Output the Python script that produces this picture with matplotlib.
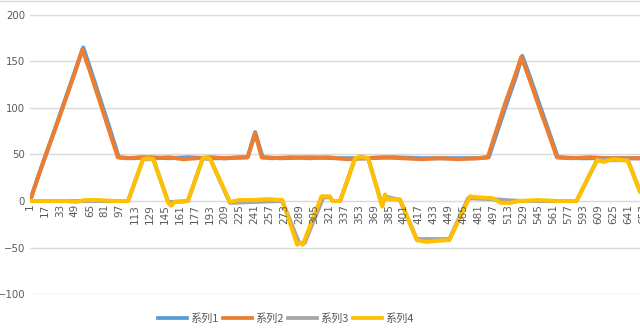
import numpy as np
import matplotlib
matplotlib.use("Agg")
import matplotlib.pyplot as plt
from matplotlib.lines import Line2D

plt.rcParams['font.family'] = ['Noto Sans CJK SC', 'DejaVu Sans']

# vertices (category index, value)
s1_x = [1, 10, 20, 30, 40, 50, 58, 66, 76, 86, 96, 110, 130, 150, 170, 190, 210, 234, 242, 250,
        270, 300, 330, 360, 390, 420, 450, 480, 492, 502, 512, 521, 528, 536, 546, 556, 566, 590, 620, 654]
s1_y = [0, 27, 55, 84, 113, 142, 165, 141, 110, 79, 47, 46, 47, 46, 47, 46, 46, 47, 74, 47,
        46, 47, 46, 46, 47, 46, 46, 46, 47, 77, 107, 133, 156, 134, 105, 76, 47, 46, 46, 46]

s2_x = [1, 10, 20, 30, 40, 50, 57, 65, 75, 85, 95, 105, 120, 135, 150, 165, 180, 195, 210, 225,
        234, 242, 249, 260, 280, 300, 320, 340, 360, 380, 400, 420, 440, 460, 480, 491,
        500, 510, 520, 527, 535, 545, 555, 565, 580, 600, 620, 640, 654]
s2_y = [0, 27, 56, 83, 112, 141, 163, 140, 109, 78, 47, 46, 47, 46, 47, 45, 46, 47, 46, 47,
        47, 73, 47, 46, 47, 46, 47, 45, 46, 47, 46, 45, 46, 45, 46, 47,
        75, 106, 134, 155, 133, 104, 76, 47, 46, 47, 46, 46, 46]

s3_x = [1, 40, 90, 106, 122, 133, 149, 156, 170, 186, 194, 215, 240, 271, 289, 295, 315, 322,
        325, 333, 349, 363, 378, 381, 397, 415, 450, 470, 496, 525, 586, 608, 641, 654]
s3_y = [0, 0, 0, 0, 45, 45, -1, -1, 0, 46, 45, -2, -1, 0, -45, -45, 4, 4,
        0, 0, 46, 46, -5, 5, 1, -41, -41, 3, 2, 0, 0, 44, 44, 10]

s4_x = [1, 20, 40, 50, 60, 75, 90, 106, 122, 127, 133, 149, 152, 156, 170, 186, 190, 194,
        215, 225, 240, 255, 271, 287, 290, 293, 313, 322, 325, 333, 349, 355, 363, 378, 381,
        384, 397, 415, 425, 435, 450, 472, 480, 496, 505, 515, 525, 545, 565, 586, 608, 615,
        625, 635, 641, 654]
s4_y = [0, 0, 0, -1, 1, 1, 0, 0, 45, 46, 45, -2, -5, -1, 0, 46, 47, 45,
        -1, 1, 1, 2, 1, -47, -45, -47, 5, 5, 0, 0, 46, 48, 46, -6, 7,
        2, 2, -42, -44, -43, -42, 5, 4, 3, -2, -2, 0, 1, 0, 0, 44, 42,
        45, 44, 43, 10]

names = ['系列1', '系列2', '系列3', '系列4']
colors = ['#5B9BD5', '#ED7D31', '#A5A5A5', '#FFC000']
xticks = list(range(1, 658, 16))
yticks = [-100, -50, 0, 50, 100, 150, 200]

fig = plt.figure(figsize=(6.4, 3.35), dpi=100)
ax = fig.add_axes([30 / 640, 41 / 335, 610 / 640, 279 / 335])

for (x, y), c in zip([(s1_x, s1_y), (s2_x, s2_y), (s3_x, s3_y), (s4_x, s4_y)], colors):
    ax.plot(x, y, color=c, lw=2.9, solid_joinstyle='round', solid_capstyle='round', zorder=3)

ax.set_xlim(1, 654)
ax.set_ylim(-100, 200)
ax.set_yticks(yticks)
ax.set_xticks([])
for sp in ax.spines.values():
    sp.set_visible(False)
ax.grid(axis='y', color='#D9D9D9', lw=1)
ax.tick_params(axis='y', length=0, pad=3.5, labelsize=7.3, labelcolor='#595959')
for t in ax.get_yticklabels():
    t.set_family('DejaVu Sans')
ax.set_axisbelow(True)

# category labels sit under the zero line
for v in xticks:
    ax.text(v, -3, str(v), rotation=90, ha='center', va='top', fontsize=7.5,
            color='#595959', family='DejaVu Sans', clip_on=False)

handles = [Line2D([], [], color=c, lw=2.7) for c in colors]
fig.legend(handles, names, loc='center', bbox_to_anchor=(286 / 640, 16 / 335), ncol=4,
           frameon=False, fontsize=8, labelcolor='#595959', handlelength=2.6,
           handletextpad=0.3, columnspacing=0.4)

fig.add_artist(Line2D([0, 1], [0.998, 0.998], color='#D9D9D9', lw=1))

fig.savefig('out.png', dpi=100)
